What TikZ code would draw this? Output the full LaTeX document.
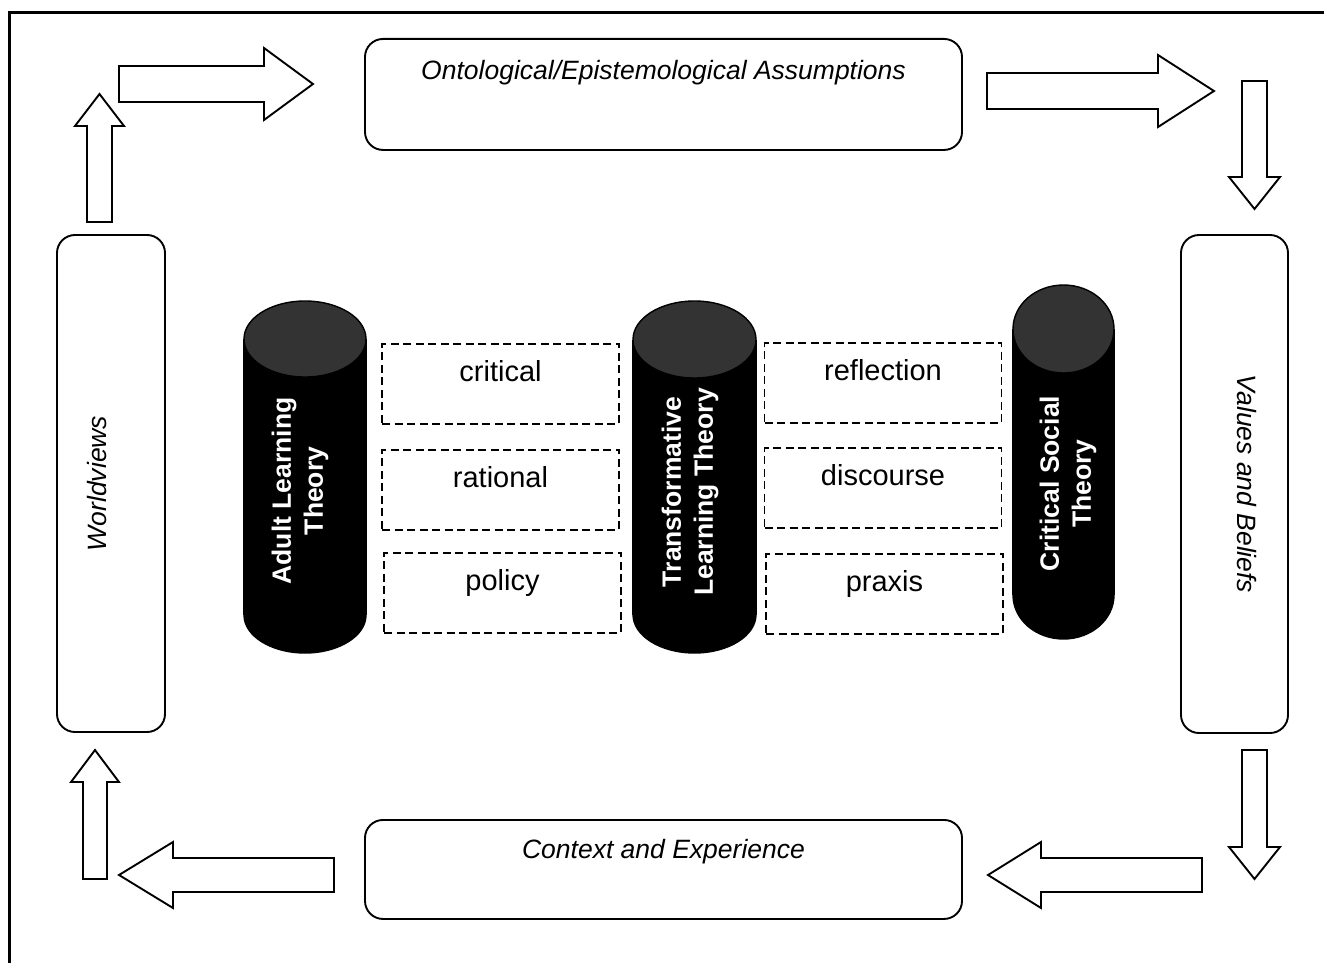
\documentclass[tikz,border=0pt]{standalone}
\usepackage{fontspec}
\setmainfont{Liberation Sans}

% cylinder drawn as: centre x, x radius, y radius, top-end centre y, bottom-end centre y
\newcommand\pillarshape[5]{%
  \draw[pillarbody] (#1,#5) ellipse [x radius=#2, y radius=#3];
  \fill[black] (#1-#2,#4) rectangle (#1+#2,#5);
  \draw[pillaredge] (#1-#2,#4) -- (#1-#2,#5) (#1+#2,#4) -- (#1+#2,#5);
  \draw[pillartop] (#1,#4) ellipse [x radius=#2, y radius=#3];
}

\begin{document}
\begin{tikzpicture}[x=1pt,y=-1pt,
  frameline/.style={line width=3pt},
  roundbox/.style={draw, line width=1.9pt, rounded corners=18pt, inner sep=0pt,
    font=\fontsize{26.5}{32}\selectfont\itshape},
  dashbox/.style={draw, dash pattern=on 8pt off 4.5pt, line width=1.7pt, inner sep=0pt,
    minimum width=237pt, text height=38pt, text depth=42pt, anchor=north,
    font=\fontsize{29}{35}\selectfont},
  blockarrow/.style={draw, line width=1.9pt, fill=white, line join=miter},
  pillarlabel/.style={font=\fontsize{26.5}{32}\selectfont\bfseries, text=white,
    align=center, rotate=90, inner sep=0pt},
  pillarbody/.style={fill=black, draw=black, line width=1.4pt},
  pillaredge/.style={draw=black, line width=1.4pt},
  pillartop/.style={fill=black!80, draw=black, line width=1.4pt},
]
\useasboundingbox (0,0) rectangle (1324,963);
\fill[white] (0,0) rectangle (1324,963);

% outer frame (top and left edges)
\draw[frameline] (9,963) -- (9,13) -- (1324,13);

% four rounded boxes of the cycle
\node[roundbox, minimum width=597pt, text height=41pt, text depth=70pt, anchor=north]
  (onto) at (663.5,38) {Ontological/Epistemological Assumptions};
\node[roundbox, minimum width=597pt, text height=39pt, text depth=60pt, anchor=north]
  (context) at (663.5,819) {Context and Experience};
\node[roundbox, rotate=90, minimum width=497pt, text height=49pt, text depth=59pt]
  (world) at (111,483.5) {Worldviews};
\node[roundbox, rotate=-90, minimum width=498pt, text height=51pt, text depth=56pt]
  (values) at (1234.5,484) {Values and Beliefs};

% block arrows around the cycle
\draw[blockarrow] (87,222) -- (87,126) -- (75,126) -- (99.5,94) -- (124,126) -- (112,126) -- (112,222) -- cycle;
\draw[blockarrow] (119,66) -- (264,66) -- (264,48) -- (313,84) -- (264,120) -- (264,102) -- (119,102) -- cycle;
\draw[blockarrow] (987,73) -- (1158,73) -- (1158,55) -- (1214,91) -- (1158,127) -- (1158,109) -- (987,109) -- cycle;
\draw[blockarrow] (1242,81) -- (1267,81) -- (1267,177) -- (1280,177) -- (1254.5,209) -- (1229,177) -- (1242,177) -- cycle;
\draw[blockarrow] (1242,750) -- (1267,750) -- (1267,847) -- (1280,847) -- (1254.5,879) -- (1229,847) -- (1242,847) -- cycle;
\draw[blockarrow] (1202,858) -- (1041,858) -- (1041,842) -- (988,875) -- (1041,908) -- (1041,892) -- (1202,892) -- cycle;
\draw[blockarrow] (334,858) -- (173,858) -- (173,842) -- (119,875) -- (173,908) -- (173,892) -- (334,892) -- cycle;
\draw[blockarrow] (83,879) -- (83,782) -- (71,782) -- (95,750) -- (119,782) -- (107,782) -- (107,879) -- cycle;

% three theory pillars
\pillarshape{305}{61}{38}{339}{615}
\node[pillarlabel] (adult) at (300,491) {Adult Learning\\Theory};
\pillarshape{694.5}{61.5}{38.5}{339.5}{614.5}
\node[pillarlabel] (transform) at (690,492) {Transformative\\Learning Theory};
\pillarshape{1063.5}{50.5}{44}{329}{595}
\node[pillarlabel] (critsoc) at (1068,483.5) {Critical Social\\Theory};

% dashed terms between the pillars
\node[dashbox] (critical)   at (500.5,343) {critical};
\node[dashbox] (rational)   at (500.5,449) {rational};
\node[dashbox] (policy)     at (502.5,552) {policy};
\node[dashbox] (reflection) at (883,342)   {reflection};
\node[dashbox] (discourse)  at (883,447)   {discourse};
\node[dashbox] (praxis)     at (884.5,553) {praxis};
\end{tikzpicture}
\end{document}
